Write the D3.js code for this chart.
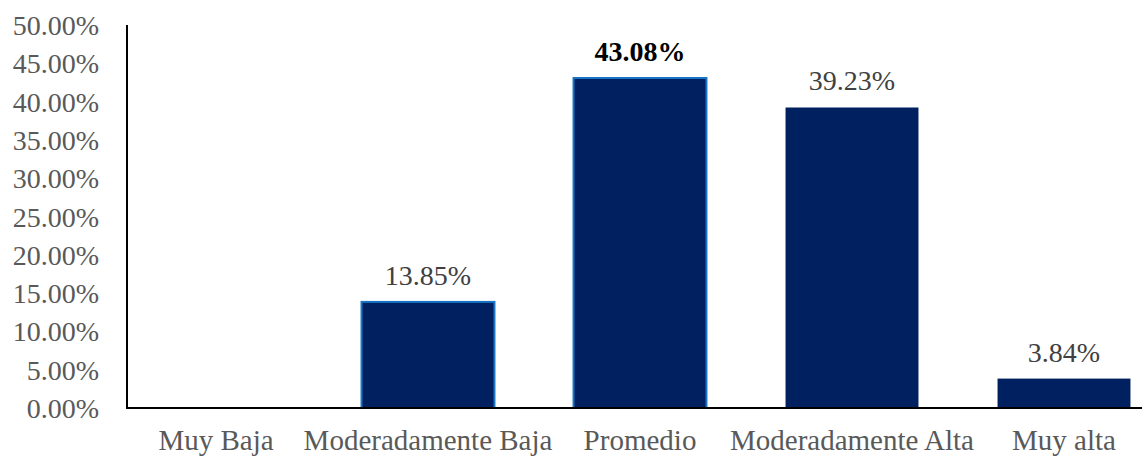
<!DOCTYPE html>
<html>
<head>
<meta charset="utf-8">
<script src="https://cdn.jsdelivr.net/npm/d3@7"></script>
<style>
  body { margin: 0; background: #fff; }
  svg { display: block; font-family: "Liberation Serif", "Times New Roman", serif; }
</style>
</head>
<body>
<svg id="chart" width="1142" height="457"></svg>
<script>
const categories = ["Muy Baja", "Moderadamente Baja", "Promedio", "Moderadamente Alta", "Muy alta"];
const values = [0, 0.1385, 0.4308, 0.3923, 0.0384];
const valueLabels = ["", "13.85%", "43.08%", "39.23%", "3.84%"];
const outlined = [false, true, true, false, false];
const boldLabel = [false, false, true, false, false];
const yTicks = [0, 0.05, 0.1, 0.15, 0.2, 0.25, 0.3, 0.35, 0.4, 0.45, 0.5];

const svg = d3.select("svg#chart");

const x = d3.scaleBand()
  .domain(categories)
  .range([110, 1170])
  .paddingInner(0.373)
  .paddingOuter(0.1865);

const y = d3.scaleLinear().domain([0, 0.5]).range([408, 25]);

// y tick labels
svg.append("g")
  .selectAll("text")
  .data(yTicks)
  .join("text")
  .attr("x", 99)
  .attr("y", d => y(d) + 10)
  .attr("text-anchor", "end")
  .attr("font-size", 28)
  .attr("fill", "#595959")
  .text(d => (d * 100).toFixed(2) + "%");

// bars
svg.append("g")
  .selectAll("rect")
  .data(values)
  .join("rect")
  .attr("x", (d, i) => x(categories[i]))
  .attr("y", d => y(d))
  .attr("width", x.bandwidth())
  .attr("height", d => y(0) - y(d))
  .attr("fill", "#002060")
  .attr("stroke", (d, i) => outlined[i] ? "#1874C4" : "none")
  .attr("stroke-width", 2);

// value labels
svg.append("g")
  .selectAll("text")
  .data(values)
  .join("text")
  .attr("x", (d, i) => x(categories[i]) + x.bandwidth() / 2)
  .attr("y", d => y(d) - 17)
  .attr("text-anchor", "middle")
  .attr("font-size", 28)
  .attr("font-weight", (d, i) => boldLabel[i] ? "bold" : "normal")
  .attr("fill", (d, i) => boldLabel[i] ? "#000" : "#404040")
  .text((d, i) => valueLabels[i]);

// axes lines
svg.append("line")
  .attr("x1", 127).attr("x2", 127)
  .attr("y1", y(0.5)).attr("y2", y(0))
  .attr("stroke", "#000").attr("stroke-width", 2);
svg.append("line")
  .attr("x1", 126).attr("x2", 1142)
  .attr("y1", y(0)).attr("y2", y(0))
  .attr("stroke", "#000").attr("stroke-width", 2);

// category labels
svg.append("g")
  .selectAll("text")
  .data(categories)
  .join("text")
  .attr("x", d => x(d) + x.bandwidth() / 2)
  .attr("y", 450)
  .attr("text-anchor", "middle")
  .attr("font-size", 29)
  .attr("fill", "#595959")
  .text(d => d);
</script>
</body>
</html>
